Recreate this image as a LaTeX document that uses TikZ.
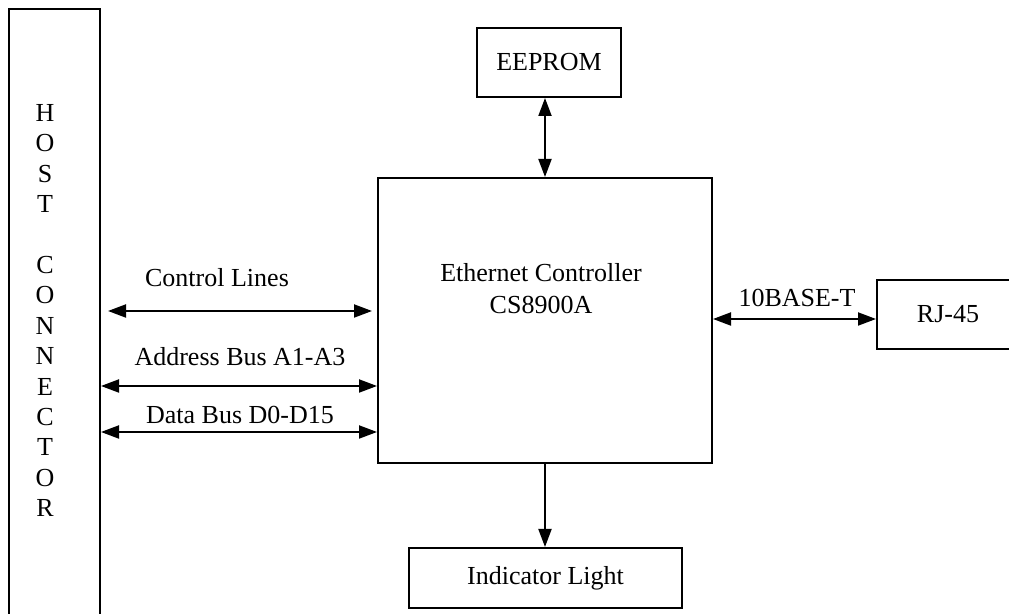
\documentclass[tikz,border=0pt]{standalone}
\usepackage{fontspec}
\setmainfont{Liberation Serif}
\usetikzlibrary{arrows.meta}

\begin{document}
\begin{tikzpicture}[x=0.5pt,y=-0.5pt,
    box/.style={draw,line width=1pt,inner sep=0pt},
    txt/.style={font=\fontsize{13}{16}\selectfont,inner sep=0pt},
    biarrow/.style={{Triangle[length=9pt,width=6.5pt]}-{Triangle[length=9pt,width=6.5pt]},line width=1pt},
    onearrow/.style={-{Triangle[length=9pt,width=6.5pt]},line width=1pt}]
    \useasboundingbox (0,0) rectangle (1009,614);

    % Define blocks (nodes)
    \node[box,minimum width=45.5pt,minimum height=315.5pt] (host) at (54.5,324.5) {};
    \node[txt,align=center,font=\fontsize{13}{15.2}\selectfont] (hostlbl) at (45,310.5)
        {H\\O\\S\\T\\[15.2pt]C\\O\\N\\N\\E\\C\\T\\O\\R};
    \node[box,txt,minimum width=72pt,minimum height=34.5pt] (eeprom) at (549,62.5) {EEPROM};
    \node[box,minimum width=167pt,minimum height=142.5pt] (ctrl) at (545,320.5) {};
    \node[txt,align=center] (ctrllbl) at (541,289) {Ethernet Controller\\CS8900A};
    \node[box,txt,minimum width=71pt,minimum height=34.5pt] (rj) at (948,314.5) {RJ-45};
    \node[box,txt,minimum width=136.5pt,minimum height=30pt] (light) at (545.5,578) {Indicator Light};

    % Rows of the bus lines
    \coordinate (cl) at (0,311);
    \coordinate (ab) at (0,386);
    \coordinate (db) at (0,432);
    \coordinate (bt) at (0,319);

    % Draw connectors
    \draw[biarrow,shorten <=3.5pt,shorten >=2.5pt] (host.east |- cl) -- (ctrl.west |- cl);
    \draw[biarrow] (host.east |- ab) -- (ctrl.west |- ab);
    \draw[biarrow] (host.east |- db) -- (ctrl.west |- db);
    \draw[biarrow] (ctrl.east |- bt) -- (rj.west |- bt);
    \draw[biarrow] (ctrl.north) -- (ctrl.north |- eeprom.south);
    \draw[onearrow] (ctrl.south) -- (ctrl.south |- light.north);

    % Line labels
    \node[txt] (cllbl) at (217,278) {Control Lines};
    \node[txt] (ablbl) at (240,357) {Address Bus A1-A3};
    \node[txt] (dblbl) at (240,415) {Data Bus D0-D15};
    \node[txt] (btlbl) at (797,298) {10BASE-T};
\end{tikzpicture}
\end{document}
